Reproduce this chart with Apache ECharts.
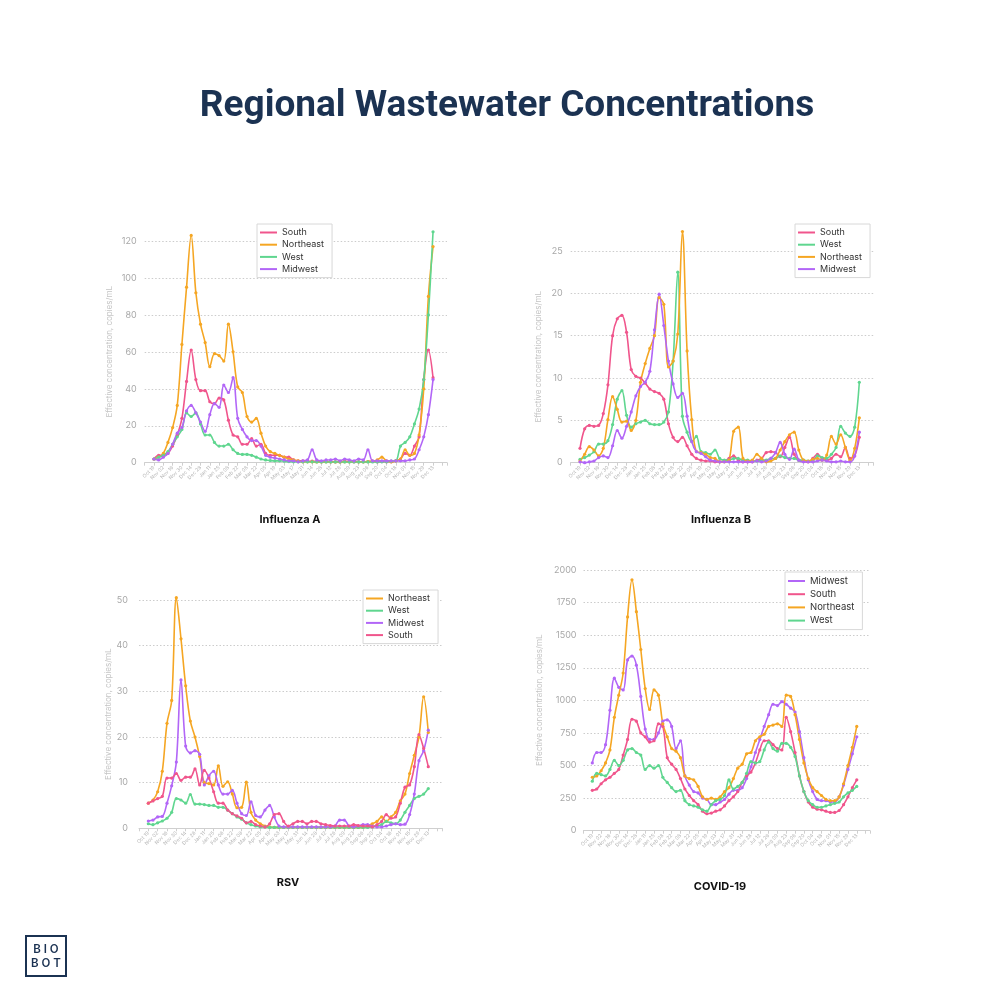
<!DOCTYPE html>
<html><head><meta charset="utf-8">
<script src="https://cdn.jsdelivr.net/npm/echarts@6/dist/echarts.min.js"></script>
<style>html,body{margin:0;padding:0;background:#fff}#c{width:1000px;height:1000px}</style>
</head><body><div id="c"></div><script>
const weeks = ['Oct 19','Oct 26','Nov 02','Nov 09','Nov 16','Nov 23','Nov 30','Dec 07','Dec 14','Dec 21','Dec 28',
  'Jan 04','Jan 11','Jan 18','Jan 25','Feb 01','Feb 08','Feb 15','Feb 22','Mar 01','Mar 08','Mar 15','Mar 22','Mar 29',
  'Apr 05','Apr 12','Apr 19','Apr 26','May 03','May 10','May 17','May 24','May 31','Jun 07','Jun 14','Jun 21','Jun 28',
  'Jul 05','Jul 12','Jul 19','Jul 26','Aug 02','Aug 09','Aug 16','Aug 23','Aug 30','Sep 06','Sep 13','Sep 20','Sep 27',
  'Oct 04','Oct 11','Oct 18','Oct 25','Nov 01','Nov 08','Nov 15','Nov 22','Nov 29','Dec 06','Dec 13'];

// Influenza A
const fluA_South = [2,4,4,5,9, 15,24,44,61,45, 39,39,33,32,35, 34,23,15,14,10, 10,13,9,10,5, 4,4,4,3,3, 1.5,1,1,0.8,0.8, 0.6,0.6,0.6,0.5,0.5, 0.5,0.8,0.6,0.5,0.5, 0.5,0.6,0.8,0.5,0.6, 0.5,0.5,1,2,5, 4,9,14,45,61, 46];
const fluA_Northeast = [2,3,5,11,19, 31,64,95,123,92, 75,65,52,59,58, 55,75,60,41,38, 25,22,24,16,9, 6,5,4,3,2, 1.5,1,0.5,0.5,0.5, 0.4,0.4,0.5,0.5,0.4, 0.4,0.5,0.5,0.6,0.5, 0.5,0.6,0.8,1.5,3, 1,0.5,1,2,7, 4,5,15,40,90, 117];
const fluA_West = [2,3,4,6,10, 14,18,27,25,27, 21,15,15,11,9, 9,10,7,5,4.5, 4.5,4,3,2,1.5, 1.2,1,1,0.8,0.6, 0.5,0.5,0.5,0.5,0.5, 0.4,0.4,0.4,0.4,0.4, 0.4,0.4,0.4,0.4,0.4, 0.4,0.4,0.4,0.4,0.5, 0.5,0.8,1,9,11, 14,21,29,45,80, 125];
const fluA_Midwest = [2,1.5,3,5,10, 16,19,28,31,27, 22,17,26,32,30, 42,38,46,24,18, 14,12,12,9,4, 3,2.5,2,1.5,1, 1,0.5,1,1.5,7, 1.5,1,1.5,1.5,2, 1,2,1.5,1,2, 1.5,7,1,1,1, 1,1,1,1,1, 1.5,2,7,14,26, 45];

// Influenza B
const fluB_South = [1.7,4,4.4,4.3,4.4, 5.8,9.2,15,17,17.4, 15.4,11,10.2,10,9.4, 8.7,8.4,8.2,7.5,4.6, 3,2.5,3,2,1, 0.5,0.3,0.2,0.2,0.1, 0.1,0.2,0.5,0.8,0.3, 0.1,0.1,0.1,0.3,0.5, 1.2,1.3,1.2,0.7,1.8, 3,1,0.3,0.2,0.1, 0.5,1,0.5,0.3,0.5, 1,0.7,1.8,0.5,0.8, 3];
const fluB_West = [0.4,0.6,0.9,1.3,2.2, 2.2,2.6,4.5,7.5,8.5, 5.6,4.2,4.6,4.8,5, 4.6,4.5,4.5,4.8,6, 12,22.5,5.5,3.6,2.5, 3.1,1.3,1.2,1,1.5, 0.5,0.3,0.3,0.5,0.5, 0.3,0.3,0.2,0.2,0.3, 0.3,0.5,0.5,0.8,0.6, 0.5,0.5,0.3,0.3,0.2, 0.2,0.8,0.6,0.5,1, 1.8,4.3,3.5,3.1,4.2, 9.5];
const fluB_Northeast = [0.2,1,1.9,1.5,0.8, 1.7,5.1,7.8,6.3,4.8, 4.9,3.8,5,9.5,11.7, 13.5,15,19.5,18.7,11.3, 12,15.2,27.3,13.2,5.1, 1.3,1.2,1,0.6,0.5, 0.1,0.1,0.3,3.7,4.2, 0.5,0.2,0.3,1,0.5, 0.1,0.2,0.5,1.5,2.5, 3.3,3.6,1.5,0.3,0.2, 0.4,0.5,0.3,0.9,3.1, 2.2,3.3,1.8,0.3,1.7, 5.3];
const fluB_Midwest = [0.1,0,0.1,0.2,0.6, 0.8,0.6,2,3.8,2.9, 4.3,6,7.9,9,9.5, 10.8,15.7,19.9,16.2,12, 9.3,7.7,8.2,5.5,2.5, 1.3,1.1,0.7,0.3,0.2, 0.1,0.1,0.1,0.1,0.1, 0.1,0.1,0.1,0.2,0.1, 0.2,0.5,1.2,2.4,1, 0.4,1.6,0.3,0.1,0.1, 0.1,0.2,0.3,0.2,0.1, 0.1,0.2,0.1,0.1,0.8, 3.6];

// RSV
const rsv_Northeast = [5.5,6.2,8,12.5,23, 28,50.5,41.5,31.2,23.5, 20,15.7,10,9.8,9.5, 13.7,9.2,10.2,7.5,4.5, 4.6,10.1,3.5,1.8,1, 0.5,0.3,0.2,0.2,0.2, 0.2,0.2,0.2,0.2,0.2, 0.2,0.2,0.2,0.2,0.2, 0.2,0.2,0.2,0.2,0.2, 0.2,0.2,0.5,1,1.5, 2.5,1.5,2.5,3.5,6, 7.5,12,16,20,28.8, 21];
const rsv_West = [1,0.8,1.2,1.6,2.2, 3.5,6.5,6.2,5.5,7.4, 5.3,5.3,5.2,5,5, 4.6,4.6,4,3.2,2.5, 2,1.2,0.8,0.5,0.3, 0.3,0.2,0.2,0.2,0.2, 0.2,0.2,0.2,0.2,0.2, 0.2,0.2,0.2,0.2,0.2, 0.2,0.2,0.2,0.2,0.2, 0.2,0.2,0.2,0.3,0.5, 0.8,1.5,1.2,1,1.8, 3.5,5,6.5,7,7.5, 8.7];
const rsv_Midwest = [1.6,1.8,2.5,2.6,5.5, 9.3,14.5,32.5,18,16.5, 17,16.2,9.5,11.5,12.5, 9.5,7.5,7.5,8.3,5.5, 3.2,2.8,5.8,2.8,2.5, 4,5,2.5,0.5,0.3, 0.3,0.3,0.3,0.3,0.3, 0.3,0.3,0.3,0.3,0.3, 0.5,1.8,1.8,0.5,0.3, 0.5,0.8,0.8,0.5,0.3, 0.3,0.5,0.8,1,0.8, 0.9,3,7.5,14.8,17, 21.5];
const rsv_South = [5.5,6,6.5,7,11, 11,12,10.5,11.2,11.2, 13,9.5,12.7,11,8, 5.5,5.5,4,3.2,2.7, 2.2,1.2,1.5,0.8,0.5, 0.3,1,3,3.2,1.5, 0.5,1,1.5,1.5,1, 1.5,1.5,1,0.8,0.6, 0.5,0.5,0.5,0.5,0.8, 0.6,0.5,0.5,0.3,0.8, 1.5,3,2.2,2.5,5.5, 9,9.5,13.5,20.5,17.5, 13.5];

// COVID-19
const cov_Midwest = [520,600,600,660,925, 1170,1100,1080,1310,1340, 1270,1030,780,700,700, 750,840,850,800,630, 690,420,350,300,290, 250,240,200,200,220, 240,280,310,310,330, 400,490,600,700,800, 890,970,960,990,970, 940,910,760,560,390, 300,240,230,230,220, 220,260,350,470,590, 720];
const cov_South = [310,320,360,390,410, 440,470,580,700,855, 840,750,720,680,690, 820,800,560,510,470, 400,320,270,230,200, 150,130,135,150,160, 190,230,260,300,370, 420,450,520,620,690, 690,660,630,620,870, 760,600,420,300,220, 180,165,160,150,140, 140,155,200,260,330, 390];
const cov_Northeast = [410,420,460,520,620, 870,1040,1210,1640,1925, 1680,1390,1090,930,1080, 1040,820,720,630,610, 560,420,400,390,340, 260,240,250,240,260, 300,330,400,480,510, 590,600,690,720,740, 800,810,820,800,1040, 1030,890,700,520,400, 330,300,270,240,230, 230,260,360,500,640, 800];
const cov_West = [380,440,430,420,470, 540,500,540,620,630, 600,580,470,500,480, 500,410,370,330,300, 310,230,200,190,180, 160,150,200,230,240, 270,390,320,340,370, 440,530,520,530,620, 680,630,610,670,670, 640,570,420,300,230, 200,180,180,190,200, 210,220,260,290,310, 340];

const colors = {South:'#f0558c', Northeast:'#f5a623', West:'#5fd68f', Midwest:'#b266f7'};
const FONT = 'Inter, "Noto Sans", sans-serif';

const panels = [
  {title:'Influenza A', tx:290, ty:520, grid:{left:144.7, top:241, width:302.3, height:221.7}, yMax:120, yInt:20, lm:8, ng:31,
   order:['South','Northeast','West','Midwest'], data:{South:fluA_South, Northeast:fluA_Northeast, West:fluA_West, Midwest:fluA_Midwest},
   legend:{left:257, top:224, fs:9}},
  {title:'Influenza B', tx:721, ty:520, grid:{left:570.7, top:251, width:302.6, height:211.7}, yMax:25, yInt:5, lm:8, ng:28,
   order:['South','West','Northeast','Midwest'], data:{South:fluB_South, West:fluB_West, Northeast:fluB_Northeast, Midwest:fluB_Midwest},
   legend:{left:795, top:224, fs:9}},
  {title:'RSV', tx:288, ty:883, grid:{left:139, top:600, width:303.3, height:228.3}, yMax:50, yInt:10, lm:11, ng:26,
   order:['Northeast','West','Midwest','South'], data:{Northeast:rsv_Northeast, West:rsv_West, Midwest:rsv_Midwest, South:rsv_South},
   legend:{left:363, top:590, fs:9}},
  {title:'COVID-19', tx:720, ty:887, grid:{left:583.5, top:570, width:286.5, height:260.7}, yMax:2000, yInt:250, lm:7, ng:40,
   order:['Midwest','South','Northeast','West'], data:{Midwest:cov_Midwest, South:cov_South, Northeast:cov_Northeast, West:cov_West},
   legend:{left:785, top:572, fs:9.5}}
];

const option = {
  backgroundColor:'#fff', animation:false,
  grid:[], xAxis:[], yAxis:[], series:[], legend:[],
  graphic:[
    {type:'text', x:507, y:107, style:{text:'Regional Wastewater Concentrations', font:'bold 37px Roboto, sans-serif', fill:'#1b3252', textAlign:'center', textVerticalAlign:'middle', verticalAlign:'middle'}},
    {type:'rect', shape:{x:26, y:936, width:40, height:40}, style:{fill:'none', stroke:'#1b3252', lineWidth:2}},
    {type:'text', x:46, y:950, style:{text:'B I O', font:'600 11.5px Inter, sans-serif', fill:'#1b3252', textAlign:'center', textVerticalAlign:'middle', verticalAlign:'middle'}},
    {type:'text', x:46, y:964, style:{text:'B O T', font:'600 11.5px Inter, sans-serif', fill:'#1b3252', textAlign:'center', textVerticalAlign:'middle', verticalAlign:'middle'}}
  ]
};

panels.forEach((p, k) => {
  option.grid.push(Object.assign({containLabel:false}, p.grid));
  option.xAxis.push({type:'value', gridIndex:k, min:-2, max:63, interval:2,
    axisLine:{lineStyle:{color:'#cfcfcf', width:1}},
    axisTick:{show:true, length:3, lineStyle:{color:'#cfcfcf'}},
    splitLine:{show:false},
    axisLabel:{rotate:45, fontSize:5, color:'#b5b5b5', margin:4, fontFamily:FONT,
      formatter:v => (v >= 0 && v < weeks.length && v % 2 === 0) ? weeks[v] : ''}});
  option.yAxis.push({type:'value', gridIndex:k, min:0, max:p.yMax, interval:p.yInt,
    name:'Effective concentration, copies/mL', nameLocation:'middle', nameGap:p.ng,
    nameTextStyle:{fontSize:8, color:'#c4c4c4', fontFamily:FONT},
    axisLine:{show:false}, axisTick:{show:false},
    splitLine:{lineStyle:{type:[1.5,2], color:'#cccccc'}},
    axisLabel:{fontSize:9, color:'#a8a8a8', margin:p.lm, fontFamily:FONT, formatter:v => String(v)}});
  p.order.forEach(name => {
    option.series.push({type:'line', name, xAxisIndex:k, yAxisIndex:k,
      data:p.data[name].map((v, i) => [i, v]),
      smooth:0.35, symbol:'circle', symbolSize:3.2, showSymbol:true, clip:false,
      lineStyle:{width:1.6, color:colors[name]}, itemStyle:{color:colors[name]},
      emphasis:{disabled:true}});
  });
  option.legend.push({data:p.order, orient:'vertical', left:p.legend.left, top:p.legend.top,
    icon:'rect', itemWidth:17, itemHeight:2, itemGap:3.2, itemTextGap:9,
    padding:[4,8,4,3], borderColor:'#d8d8d8', borderWidth:1, backgroundColor:'#fff',
    selectedMode:false, textStyle:{fontSize:p.legend.fs, color:'#333', fontFamily:FONT}});
  option.graphic.push({type:'text', x:p.tx, y:p.ty, style:{text:p.title, font:'bold 11px Inter, sans-serif', fill:'#111', textAlign:'center', textVerticalAlign:'middle', verticalAlign:'middle'}});
});

const chart = echarts.init(document.getElementById('c'), null, {renderer:'canvas'});
chart.setOption(option);
</script></body></html>
